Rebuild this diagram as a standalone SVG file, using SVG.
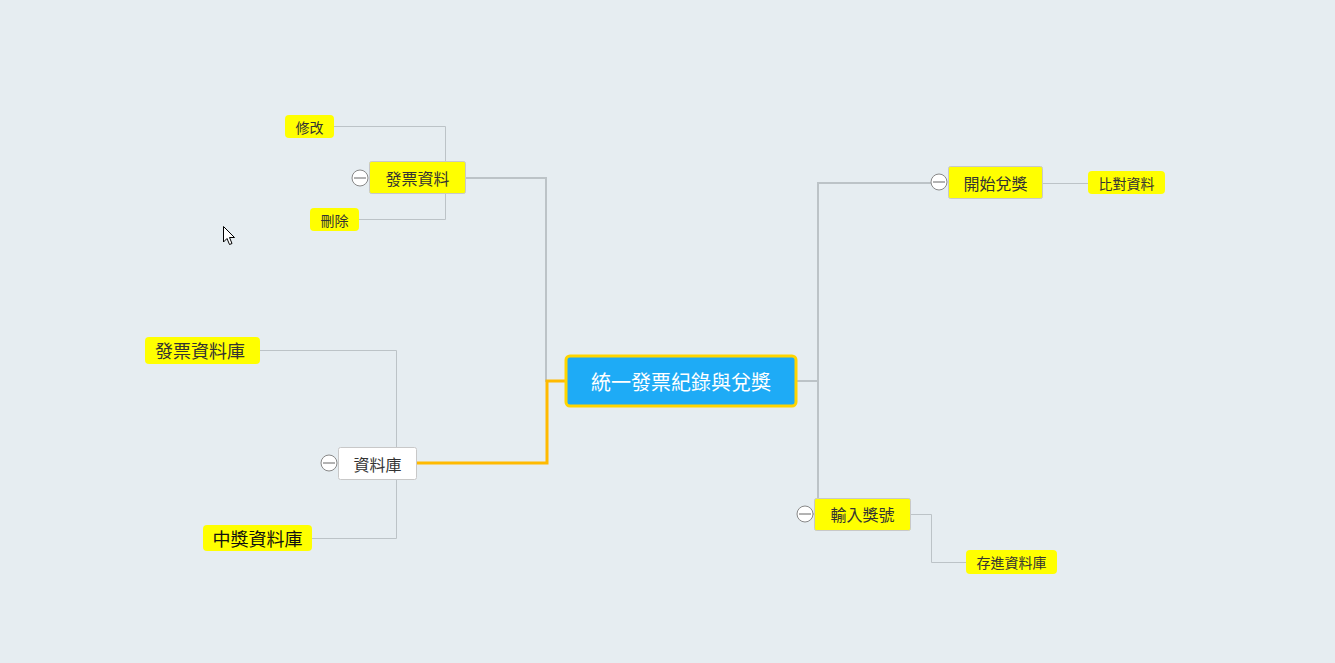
<svg xmlns="http://www.w3.org/2000/svg" width="1335" height="663" viewBox="0 0 1335 663">
<style>
text{font-family:"Noto Sans CJK TC","Noto Sans CJK SC",sans-serif;fill:#333;text-anchor:middle;dominant-baseline:central}
.hl{fill:#ffff00;stroke:none}
.box{fill:#ffff00;stroke:#c8c8c8;stroke-width:1}
.wbox{fill:#ffffff;stroke:#c8c8c8;stroke-width:1}
.ln{fill:none;stroke:#bcc3c7;stroke-width:1}
.ln2{fill:none;stroke:#bcc3c7;stroke-width:2}
.or{fill:none;stroke:#ffba00;stroke-width:3}
.tog{fill:#fff;stroke:#888;stroke-width:1}
.togl{stroke:#666;stroke-width:1}
</style>
<rect width="1335" height="663" fill="#e6edf1"/>
<g id="connectors">
<path class="ln2" d="M466,178 H546 V381 H565"/>
<path class="or" d="M565,381 H547 V463 H417"/>
<path class="ln2" d="M797,381 H818 V183 H931 M818,381 V514 H797"/>
<path class="ln" d="M334,126.5 H445.5 V161 M359,219.5 H445.5 V193"/>
<path class="ln" d="M260,350.5 H396.5 V447 M312,538.5 H396.5 V480"/>
<path class="ln" d="M1043,183.5 H1088"/>
<path class="ln" d="M911,514.5 H931.5 V562.5 H966"/>
</g>
<g id="root">
<rect x="566" y="356" width="230" height="50" rx="4" fill="#1eabf6" stroke="#ffd500" stroke-width="3"/>
<text x="681" y="381" font-size="20" style="fill:#fff">統一發票紀錄與兌獎</text>
</g>
<g id="n-fapiao">
<rect class="box" x="369.5" y="161.5" width="96" height="32" rx="2"/>
<text x="417.5" y="177.5" font-size="16">發票資料</text>
<circle class="tog" cx="360" cy="178" r="8"/><line class="togl" x1="354" y1="178" x2="366" y2="178"/>
</g>
<g id="n-xiugai">
<rect class="hl" x="285" y="115" width="49" height="23" rx="4"/>
<text x="309.5" y="126.5" font-size="14">修改</text>
</g>
<g id="n-shanchu">
<rect class="hl" x="310" y="208" width="49" height="23" rx="4"/>
<text x="334.5" y="219.5" font-size="14">刪除</text>
</g>
<g id="n-db">
<rect class="wbox" x="338.5" y="447.5" width="78" height="32" rx="2"/>
<text x="377.5" y="463.5" font-size="16">資料庫</text>
<circle class="tog" cx="329" cy="463" r="8"/><line class="togl" x1="323" y1="463" x2="335" y2="463"/>
</g>
<g id="n-fapiaodb">
<rect class="hl" x="145" y="337" width="115" height="27" rx="4"/>
<text x="200" y="350" font-size="18">發票資料庫</text>
</g>
<g id="n-zhongjiangdb">
<rect class="hl" x="203" y="525" width="109" height="26" rx="4"/>
<text x="257.5" y="538" font-size="18" style="fill:#111">中獎資料庫</text>
</g>
<g id="n-kaishi">
<rect class="box" x="948.5" y="166.5" width="94" height="32" rx="2"/>
<text x="995.5" y="182.5" font-size="16">開始兌獎</text>
<circle class="tog" cx="939" cy="182" r="8"/><line class="togl" x1="933" y1="182" x2="945" y2="182"/>
</g>
<g id="n-bidui">
<rect class="hl" x="1088" y="171" width="77" height="23" rx="4"/>
<text x="1126.5" y="182.5" font-size="14">比對資料</text>
</g>
<g id="n-shuru">
<rect class="box" x="814.5" y="498.5" width="96" height="32" rx="2"/>
<text x="862.5" y="514" font-size="16">輸入獎號</text>
<circle class="tog" cx="805" cy="514" r="8"/><line class="togl" x1="799" y1="514" x2="811" y2="514"/>
</g>
<g id="n-cunjin">
<rect class="hl" x="966" y="550" width="91" height="24" rx="4"/>
<text x="1011.5" y="562" font-size="14">存進資料庫</text>
</g>
<path d="M223.5,226.5 V242 L227,238.5 L229.5,244.5 L232,243.5 L229.5,237.5 L234.5,237.5 Z" fill="#fff" stroke="#000" stroke-width="1"/>
</svg>
